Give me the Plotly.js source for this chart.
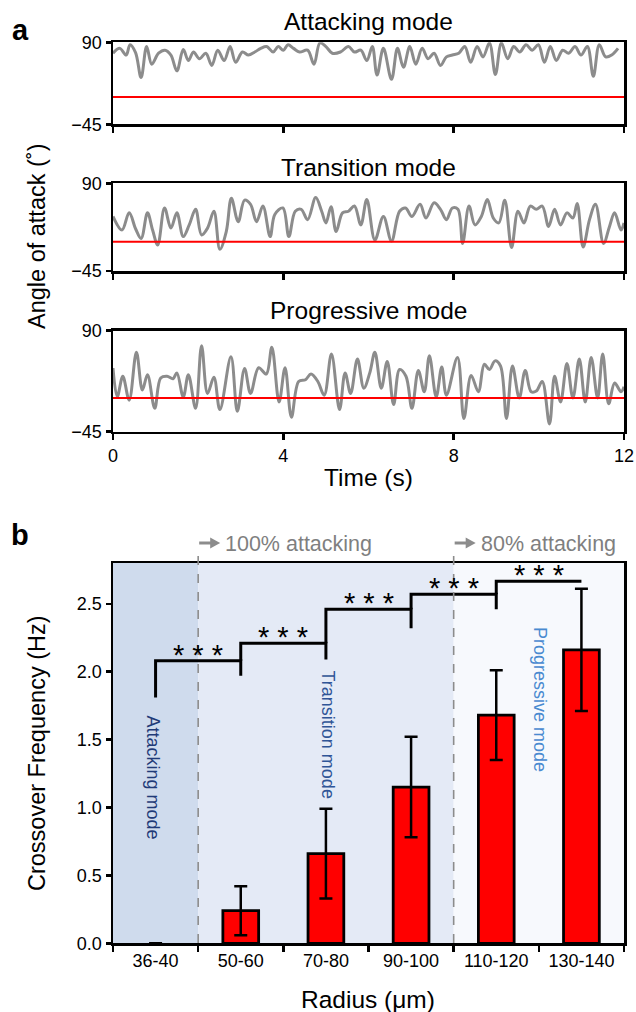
<!DOCTYPE html>
<html>
<head>
<meta charset="utf-8">
<script src="https://cdn.plot.ly/plotly-3.0.1.min.js"></script>
<style>html,body{margin:0;padding:0;background:#fff;}#chart{width:636px;height:1012px;}</style>
</head>
<body>
<div id="chart"></div>
<script>
// ---------- Panel a data (angle of attack, degrees vs time, s) ----------
const tAttack = [0,0.16,0.31,0.4,0.53,0.66,0.79,0.91,1.07,1.22,1.36,1.5,1.65,1.77,1.89,2.03,2.18,2.32,2.46,2.61,2.75,2.88,3.04,3.18,3.33,3.47,3.61,3.76,3.88,4.0,4.11,4.24,4.38,4.57,4.72,4.86,5.0,5.15,5.34,5.53,5.67,5.82,5.96,6.09,6.2,6.35,6.54,6.68,6.82,6.97,7.11,7.26,7.4,7.54,7.69,7.83,7.97,8.12,8.26,8.4,8.55,8.69,8.84,8.98,9.12,9.27,9.41,9.55,9.7,9.84,9.99,10.13,10.27,10.41,10.56,10.7,10.85,10.99,11.14,11.28,11.42,11.57,11.71,11.86];
const angleAttack = [72,80,69,86,73,32,83,54,72,77,69,43,78,60,74,63,72,52,77,60,83,57,74,69,74,80,83,74,83,77,86,80,74,77,54,89,83,72,74,83,74,77,60,83,36,80,29,80,49,83,54,80,63,72,52,66,69,72,83,57,83,66,89,37,89,63,83,74,86,77,86,57,83,60,77,72,83,69,83,34,86,66,69,80];

const tTransition = [0,0.21,0.38,0.53,0.66,0.81,0.93,1.05,1.21,1.36,1.5,1.65,1.79,1.94,2.08,2.22,2.37,2.51,2.66,2.78,2.94,3.09,3.23,3.37,3.52,3.69,3.8,3.99,4.13,4.28,4.42,4.57,4.76,4.9,5.0,5.12,5.24,5.39,5.53,5.67,5.82,5.96,6.15,6.35,6.54,6.73,6.87,7.02,7.21,7.35,7.54,7.69,7.83,7.97,8.1,8.21,8.36,8.5,8.65,8.79,8.93,9.06,9.2,9.36,9.51,9.65,9.8,9.94,10.08,10.23,10.37,10.51,10.66,10.8,10.9,11.04,11.19,11.33,11.52,11.66,11.78,11.93,12];
const angleTransition = [39,18,44.5,20,5,44.5,18,-5,52,21,44.5,8,26,50,10.5,21,47,-11.5,15.7,67,31,64,57.6,31,55,8,42,52,8,47,50,34,68,47,29,54,15.7,44.5,47,55,26,65,2.7,39,1,47,52,39,57.6,36.6,60,50,34,52,50,-2.6,55,26,39,65,36.6,29,64,-9,47,29,55,50,55,23.6,50,26,44.5,36.6,59,-8,34,57.6,-2.6,23.6,44.5,18,29];

const tProgressive = [0,0.1,0.23,0.38,0.55,0.69,0.81,0.98,1.12,1.27,1.41,1.5,1.65,1.77,1.94,2.08,2.22,2.37,2.51,2.77,2.92,3.09,3.23,3.42,3.6,3.73,3.9,4.04,4.19,4.36,4.52,4.65,4.81,4.96,5.13,5.32,5.45,5.58,5.74,5.89,6.03,6.15,6.3,6.44,6.59,6.73,6.88,7.02,7.17,7.31,7.43,7.59,7.72,7.83,8.09,8.24,8.41,8.58,8.72,8.84,8.97,9.1,9.24,9.38,9.54,9.68,9.82,9.94,10.08,10.25,10.37,10.51,10.66,10.8,10.95,11.09,11.23,11.38,11.5,11.64,11.78,11.93,12];
const angleProgressive = [40,1.4,29,-3,61,10.6,31,-14,26.6,29,25.7,33.5,1.4,31,-14,70,6,27.6,-15.6,55,-18,39.5,6,40.4,32,68,-5.5,40.4,-26,22,24.4,32,22,3.7,58.8,-15.6,33.5,6,52,13,33.5,61,13,48.7,-9,38,29,-14,36.8,8.3,56.5,1.4,41.3,3.7,54,-27.5,30,8.3,45,38,49.6,42.7,-27.5,42.7,0,36.8,8.3,9.2,22,-35,29,-5.5,46,0,52,-5.5,54,0,58.8,-7.8,20,8.3,15];

const modeTitles = ["Attacking mode", "Transition mode", "Progressive mode"];
const angleThreshold = 0;
const angleTicks = [-45, 90];
const timeTicks = [0, 4, 8, 12];

// ---------- Panel b data ----------
const radiusLabels = ["36-40", "50-60", "70-80", "90-100", "110-120", "130-140"];
const crossoverFreq = [0, 0.24, 0.66, 1.15, 1.68, 2.16];
const crossoverErr = [0, 0.18, 0.33, 0.37, 0.33, 0.45];
const bracketStart = 1.81;
const bracketHeights = [2.08, 2.21, 2.46, 2.57, 2.665];
const bracketFeet = [1.97, 2.09, 2.32, 2.46, 2.665];
const sigLabel = "* * *";
const regionBounds = [-0.5, 0.5, 3.5, 5.5];
const regionNames = ["Attacking mode", "Transition mode", "Progressive mode"];
const thresholdLabels = ["100% attacking", "80% attacking"];

// ---------- Layout helpers ----------
const W = 636, H = 1012;
const px = x => x / W;
const py = y => 1 - y / H;
const FONT = "Liberation Sans, Arial, sans-serif";
const gray = "#8c8c8c";

const xDom = [px(113), px(624)];
const panelY = [[124.3, 42.3], [271, 183.3], [431.5, 330.7]];

const traces = [];
const series = [[tAttack, angleAttack], [tTransition, angleTransition], [tProgressive, angleProgressive]];
series.forEach((s, i) => {
  const sfx = i === 0 ? "" : String(i + 1);
  traces.push({
    x: s[0], y: s[1], type: "scatter", mode: "lines",
    line: {color: gray, width: 3, shape: "spline", smoothing: 1},
    xaxis: "x" + sfx, yaxis: "y" + sfx, hoverinfo: "skip", showlegend: false
  });
});

// Bars
traces.push({
  x: radiusLabels, y: crossoverFreq, type: "bar", width: 0.42,
  marker: {color: "#ff0000", line: {color: "#000", width: crossoverFreq.map(v => v > 0 ? 2.8 : 0)}},
  error_y: {type: "data", array: crossoverErr, visible: true, color: "#000", thickness: 2.5, width: 6.5},
  xaxis: "x4", yaxis: "y4", showlegend: false, hoverinfo: "skip"
});

// Significance brackets
const bx = [], by = [];
bracketHeights.forEach((h, i) => {
  const lo = i === 0 ? bracketStart : bracketHeights[i - 1];
  bx.push(radiusLabels[i], radiusLabels[i], radiusLabels[i + 1], radiusLabels[i + 1], null);
  by.push(lo, h, h, bracketFeet[i], null);
});
traces.push({
  x: bx, y: by, type: "scatter", mode: "lines", line: {color: "#000", width: 3},
  xaxis: "x4", yaxis: "y4", showlegend: false, hoverinfo: "skip", connectgaps: false
});

const axBase = {
  showline: true, linecolor: "#000", linewidth: 2.5, mirror: true,
  showgrid: false, zeroline: false, ticks: "outside", tickcolor: "#000",
  tickwidth: 2.5, automargin: false,
  tickfont: {family: FONT, size: 18, color: "#000"}
};

const layout = {
  width: W, height: H,
  margin: {l: 0, r: 0, t: 0, b: 0},
  paper_bgcolor: "#fff", plot_bgcolor: "rgba(0,0,0,0)",
  showlegend: false,
  font: {family: FONT, color: "#000"},
  shapes: [], annotations: []
};

panelY.forEach((yy, i) => {
  const sfx = i === 0 ? "" : String(i + 1);
  layout["xaxis" + sfx] = Object.assign({}, axBase, {
    domain: xDom, anchor: "y" + sfx, range: [0, 12], tickvals: timeTicks,
    showticklabels: i === 2, ticklen: 6
  });
  layout["yaxis" + sfx] = Object.assign({}, axBase, {
    domain: [py(yy[0]), py(yy[1])], anchor: "x" + sfx, range: [-45, 90],
    tickvals: angleTicks, ticklen: 5
  });
  layout.shapes.push({
    type: "line", xref: "x" + sfx, yref: "y" + sfx, x0: 0, x1: 12,
    y0: angleThreshold, y1: angleThreshold, line: {color: "#ff0000", width: 2}, layer: "above"
  });
});

layout.xaxis4 = Object.assign({}, axBase, {
  domain: xDom, anchor: "y4", type: "category", range: [-0.5, 5.5],
  tickson: "boundaries", ticklen: 6, categoryorder: "array", categoryarray: radiusLabels
});
layout.yaxis4 = Object.assign({}, axBase, {
  domain: [py(943.3), py(563)], anchor: "x4", range: [0, 2.8],
  dtick: 0.5, tick0: 0, tickformat: ".1f", ticklen: 5
});

// Background regions for panel b
const regionFill = ["#cfdbed", "#e4eaf6", "#f7f9fd"];
for (let i = 0; i < 3; i++) {
  layout.shapes.push({
    type: "rect", xref: "x4", yref: "y4", x0: regionBounds[i], x1: regionBounds[i + 1],
    y0: 0, y1: 2.8, fillcolor: regionFill[i], line: {width: 0}, layer: "below"
  });
}
// Dashed threshold lines and arrows
[regionBounds[1], regionBounds[2]].forEach((b, i) => {
  layout.shapes.push({
    type: "line", xref: "x4", yref: "paper", x0: b, x1: b, y0: py(943), y1: py(549),
    line: {color: gray, width: 1.6, dash: "dash"}, layer: "above"
  });
  const x0 = 113 + (b + 0.5) * (511 / 6);
  layout.shapes.push({
    type: "line", xref: "paper", yref: "paper", x0: px(x0 + 1), x1: px(x0 + 14),
    y0: py(543), y1: py(543), line: {color: gray, width: 3}
  });
  layout.shapes.push({
    type: "path", xref: "paper", yref: "paper",
    path: `M ${px(x0 + 12)} ${py(537.5)} L ${px(x0 + 22)} ${py(543)} L ${px(x0 + 12)} ${py(548.5)} Z`,
    fillcolor: gray, line: {width: 0}
  });
  layout.annotations.push({
    xref: "paper", yref: "paper", x: px(x0 + 25), y: py(544), xanchor: "left", yanchor: "middle",
    text: thresholdLabels[i], showarrow: false, font: {family: FONT, size: 21.5, color: "#7f7f7f"}
  });
});

function ann(text, x, y, size, opts) {
  layout.annotations.push(Object.assign({
    xref: "paper", yref: "paper", x: px(x), y: py(y), xanchor: "center", yanchor: "middle",
    text: text, showarrow: false, font: {family: FONT, size: size, color: "#000"}
  }, opts || {}));
}
ann("<b>a</b>", 20, 30, 29);
ann("<b>b</b>", 20, 535, 29);
ann(modeTitles[0], 368, 22, 24.5);
ann(modeTitles[1], 368, 167, 24.5);
ann(modeTitles[2], 368, 310, 24.5);
ann("Angle of attack (˚)", 37, 237, 23.5, {textangle: -90});
ann("Time (s)", 368, 477, 24.5);
ann("Crossover Frequency (Hz)", 37, 753, 23.5, {textangle: -90});
ann("Radius (μm)", 368, 999, 24.5);

// Mode labels inside panel b
const modeColors = ["#1f3a78", "#2f5597", "#4a8ad0"];
const modePos = [[152.5, 777], [327.5, 734], [540, 699]];
regionNames.forEach((n, i) => {
  ann(n, modePos[i][0], modePos[i][1], 18, {textangle: 90, font: {family: FONT, size: 18, color: modeColors[i]}});
});

// Stars
bracketHeights.forEach((h, i) => {
  layout.annotations.push({
    xref: "x4", yref: "y4", x: i + 0.5, y: h, xanchor: "center", yanchor: "bottom",
    yshift: -12, text: sigLabel, showarrow: false, font: {family: FONT, size: 29, color: "#000"}
  });
});

Plotly.newPlot("chart", traces, layout, {staticPlot: true, displayModeBar: false});
</script>
</body>
</html>
